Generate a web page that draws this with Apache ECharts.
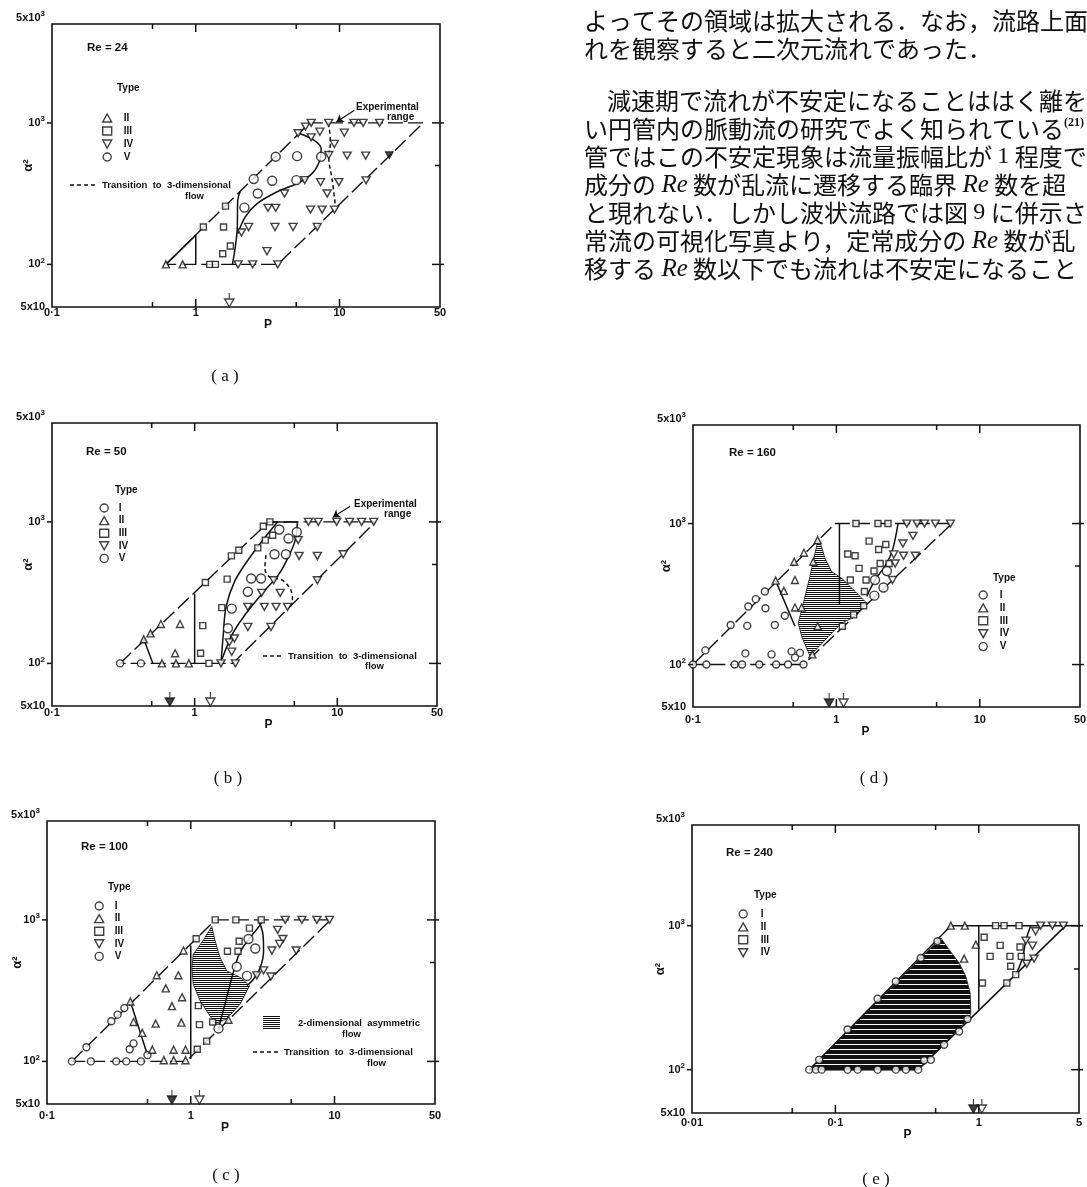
<!DOCTYPE html>
<html>
<head>
<meta charset="utf-8">
<script src="https://cdn.jsdelivr.net/npm/echarts@6/dist/echarts.min.js"></script>
<style>
  html, body { margin: 0; padding: 0; background: #fff; }
  #chart { width: 1087px; height: 1187px; }
</style>
</head>
<body>
<div id="chart"></div>
<script>
// ---------------------------------------------------------------
// Flow-type maps: P (x) against alpha^2 (y), log-log, five Re values
// Each point is [P, alpha^2].
// ---------------------------------------------------------------

// Axis ticks / labels
const X_RANGE = [0.1, 50];
const X_RANGE_E = [0.01, 5];
const X_TICK_MARKS = [0.5, 1, 5, 10];
const X_TICK_MARKS_E = [0.05, 0.1, 0.5, 1];
const Y_RANGE = [50, 5000];
const Y_TICK_MARKS = [100, 500, 1000];
const Y_TICK_VALUES = [50, 100, 1000, 5000];
const Y_TICK_LABELS = ['5x10', '10{sup|2}', '10{sup|3}', '{top|5x10}{tsup|3}'];

// ---- (a) Re = 24 ----
const a_II = [[0.62,100],[0.81,100]];
const a_III = [[1.25,100],[1.37,100],[1.54,119],[1.74,135],[1.13,184],[1.56,184],[1.61,258]];
const a_IV = [[1.97,100],[2.49,100],[3.72,100],[3.13,124],[2.08,168],[2.33,184],[3.56,184],[4.75,184],[7.0,184],
  [3.18,251],[3.60,251],[6.28,244],[7.57,244],[9.23,244],[4.14,317],[8.2,317],[5.73,394],[7.38,382],[9.9,382],
  [15.3,393],[8.42,593],[11.3,587],[15.2,587],[5.15,845],[5.8,942],[6.35,1000],[6.35,791],[7.3,867],[10.8,853],
  [8.4,1000],[12.6,1000],[14.6,1000],[19.0,1000],[9.2,710]];
const a_IVsolid = [[22.2,591]];
const a_V = [[3.60,577],[5.07,582],[7.45,577],[2.53,401],[3.40,390],[5.01,394],[2.70,317],[2.18,252]];
const a_range = [[0.62,100],[6.2,1000],[38.3,1000],[3.72,100],[0.62,100]];
const a_solidII = [[0.62,100],[1.0,161],[1.0,100]];
const a_sep1 = [[1.80,100],[1.94,174],[1.96,284],[2.04,329]];
const a_sep2 = [[1.96,165],[2.21,217],[2.67,269],[3.68,326],[5.07,373],[6.46,440],[7.30,547],[7.45,661],[6.63,757],[5.20,845]];
const a_trans = [[8.4,1000],[8.65,718],[8.4,580],[8.9,394],[9.38,255]];
const a_arrow = [[12.7,1229],[9.5,1016]];
const a_pOpen = [1.71];
const a_pFilled = [];

// ---- (b) Re = 50 ----
const b_I = [[0.30,100],[0.42,100]];
const b_II = [[0.44,148],[0.49,163],[0.58,190],[0.79,190],[0.73,118],[0.59,100],[0.74,100],[0.91,100]];
const b_III = [[1.26,100],[1.10,118],[1.14,185],[1.19,373],[1.69,394],[1.55,248],[1.81,575],[2.04,631],
  [2.77,655],[3.03,931],[3.37,1000],[3.13,743],[3.52,805]];
const b_IV = [[1.53,100],[1.93,100],[1.82,121],[1.75,141],[1.90,150],[2.36,181],[3.43,181],[2.36,251],[3.08,251],
  [3.72,251],[4.48,251],[2.95,315],[3.98,315],[3.58,387],[7.25,387],[5.4,575],[7.25,575],[11.0,591],[5.32,743],
  [6.28,1000],[7.36,1000],[9.9,1000],[12.2,1000],[14.8,1000],[18.0,1000]];
const b_V = [[3.63,591],[4.36,591],[4.55,763],[5.2,849],[2.49,398],[2.92,398],[2.36,321],[1.82,244],[1.71,177],[3.92,883]];
const b_range = [[0.30,100],[3.3,1000],[18.5,1000],[1.85,100],[0.30,100]];
const b_topSolid = [[3.3,1000],[5.3,1000]];
const b_solidII = [[0.44,148],[0.51,100]];
const b_vert = [[1.0,312],[1.0,100]];
const b_curve1 = [[1.53,100],[1.59,163],[1.66,251],[1.90,377],[2.36,536],[3.0,743],[3.81,1000]];
const b_curve2 = [[1.56,108],[1.85,163],[2.29,225],[3.0,315],[3.92,431],[4.6,582],[5.07,743],[5.26,1000]];
const b_trans = [[3.16,582],[3.11,469],[3.34,409],[4.13,387],[4.72,330],[4.85,280],[4.65,248]];
const b_arrow = [[12.3,1291],[9.3,1080]];
const b_pOpen = [1.29];
const b_pFilled = [0.67];

// ---- (c) Re = 100 ----
const c_I = [[0.149,100],[0.202,100],[0.303,100],[0.356,100],[0.45,100],[0.188,126],[0.28,192],[0.31,214],
  [0.345,238],[0.376,122],[0.40,134],[0.50,111]];
const c_II = [[0.38,265],[0.40,190],[0.46,159],[0.54,121],[0.57,185],[0.65,102],[0.76,102],[0.92,102],[0.76,121],
  [0.92,121],[0.86,188],[0.74,246],[0.87,284],[0.67,328],[0.58,406],[0.82,406],[0.89,608],[1.83,197]];
const c_III = [[1.11,122],[1.29,139],[1.15,182],[1.42,190],[1.13,248],[1.09,736],[1.48,1000],[2.06,1000],[3.09,1000],
  [1.80,601],[2.13,601],[2.17,706],[2.56,875]];
const c_IV = [[4.54,1000],[5.93,1000],[7.54,1000],[9.23,1000],[4.02,851],[4.37,733],[4.15,676],[3.67,608],
  [3.21,440],[2.88,406],[3.61,398],[5.41,608]];
const c_V = [[2.09,467],[2.46,402],[2.81,628],[2.52,733],[1.56,171]];
const c_range = [[0.149,100],[1.48,1000],[9.4,1000],[0.93,100],[0.149,100]];
const c_solidII = [[0.38,265],[0.50,111]];
const c_vert = [[1.0,660],[1.0,104]];
const c_curveA = [[1.56,171],[1.78,284],[1.99,436],[2.19,585],[2.52,725],[3.04,923],[3.15,1000]];
const c_curveB = [[2.95,1000],[3.18,786],[3.21,601],[3.04,460],[2.73,381],[2.46,343]];
const c_hatch = [[1.40,898],[1.23,725],[1.04,570],[1.02,460],[1.04,352],[1.16,269],[1.33,217],[1.48,185],
  [1.78,200],[2.21,255],[2.56,343],[2.21,392],[1.78,436],[1.60,541],[1.48,706]];
const c_pOpen = [1.15];
const c_pFilled = [0.74];

// ---- (d) Re = 160 ----
const d_I = [[0.1,100],[0.124,100],[0.195,100],[0.22,100],[0.29,100],[0.38,100],[0.46,100],[0.59,100],
  [0.122,126],[0.183,191],[0.243,258],[0.274,291],[0.317,330],[0.239,188],[0.32,251],[0.372,191],[0.437,222],
  [0.232,120],[0.353,118],[0.487,124],[0.557,121],[0.514,112]];
const d_II = [[0.377,394],[0.514,398],[0.43,333],[0.508,536],[0.594,621],[0.69,536],[0.74,763],[0.514,254],
  [0.573,254],[0.74,187],[0.68,118]];
const d_III = [[1.37,1000],[1.95,1000],[2.29,1000],[1.20,608],[1.35,591],[1.69,750],[1.97,655],[2.21,711],
  [2.02,521],[2.33,521],[1.44,481],[1.83,461],[1.61,398],[1.25,398],[1.57,330],[1.55,261],[1.32,225],[1.10,187]];
const d_IV = [[3.10,1000],[3.65,1000],[4.12,1000],[4.90,1000],[6.24,1000],[3.42,819],[2.91,722],[2.94,591],
  [2.51,604],[2.57,521],[3.55,591],[2.46,398]];
const d_V = [[2.25,461],[1.86,398],[2.13,352],[1.84,308]];
const d_range = [[0.1,100],[0.98,1000],[6.4,1000],[0.59,100],[0.1,100]];
const d_vert = [[1.05,1000],[1.05,265]];
const d_sepI = [[0.377,394],[0.514,187]];
const d_curve = [[2.69,1000],[2.46,648],[2.19,502],[1.86,398],[1.63,304]];
const d_hatch = [[0.748,784],[0.709,614],[0.654,421],[0.588,272],[0.542,197],[0.573,158],[0.654,115],[0.879,158],
  [1.09,197],[1.35,219],[1.63,272],[1.35,330],[1.09,409],[0.927,456],[0.833,566],[0.789,684]];
const d_pOpen = [1.12];
const d_pFilled = [0.89];

// ---- (e) Re = 240 ----
const e_I = [[0.0657,100],[0.0731,100],[0.0802,100],[0.1216,100],[0.143,100],[0.197,100],[0.264,100],[0.310,100],
  [0.378,100],[0.0771,117],[0.1216,190],[0.197,311],[0.264,410],[0.394,596],[0.515,779],[0.416,116],[0.463,117],
  [0.573,149],[0.729,184],[0.834,225]];
const e_II = [[0.638,1000],[0.799,1000],[0.953,738],[0.790,590]];
const e_III = [[1.31,1000],[1.50,1000],[1.91,1000],[1.09,830],[1.41,730],[1.20,612],[1.65,612],[1.94,711],
  [1.98,612],[1.67,522],[1.06,400],[1.57,400],[1.81,457]];
const e_IV = [[2.49,914],[2.70,1000],[3.26,1000],[3.89,1000],[2.13,787],[2.37,726],[2.16,544],[2.43,590]];
const e_range = [[0.378,100],[0.0657,100],[0.64,1000],[5,1000]];
const e_right = [[4.04,1000],[0.378,100]];
const e_vert = [[1.0,1000],[1.0,262]];
const e_curve = [[2.3,1000],[2.13,790],[2.05,640],[1.95,540],[1.81,457]];
const e_hatch = [[0.0657,100],[0.544,821],[0.621,681],[0.729,551],[0.811,445],[0.871,341],[0.880,248],[0.86,228],[0.378,100]];
const e_pOpen = [1.05];
const e_pFilled = [0.918];

// Body text set beside the figure
const BODY_LINES = [
  'よってその領域は拡大される．なお，流路上面',
  'れを観察すると二次元流れであった．',
  '減速期で流れが不安定になることははく離を',
  'い円管内の脈動流の研究でよく知られている{s|(21)}',
  '管ではこの不安定現象は流量振幅比が {n|1} 程度で',
  '成分の {i|Re} 数が乱流に遷移する臨界 {i|Re} 数を超',
  'と現れない．しかし波状流路では図 {n|9} に併示さ',
  '常流の可視化写真より，定常成分の {i|Re} 数が乱',
  '移する {i|Re} 数以下でも流れは不安定になること'
];

// ---------------------------------------------------------------
const INK = '#111';
const FONT = '"Liberation Sans", Arial, sans-serif';
const TRI_DOWN = 'path://M0,0L10,0L5,9Z';
const P_ARROW = 'path://M5,0L5,6M1,6L9,6L5,14Z';
const MARK = {
  I:   { symbol: 'circle',   size: 7 },
  II:  { symbol: 'triangle', size: 7 },
  III: { symbol: 'rect',     size: 6 },
  IV:  { symbol: TRI_DOWN,   size: [8, 7] },
  V:   { symbol: 'circle',   size: 9 }
};

function hatchPattern(ink, gap) {
  const c = document.createElement('canvas');
  c.width = 4; c.height = ink + gap;
  const g = c.getContext('2d');
  g.fillStyle = '#fff'; g.fillRect(0, 0, 4, ink + gap);
  g.fillStyle = INK; g.fillRect(0, 0, 4, ink);
  return { image: c, repeat: 'repeat' };
}
const HATCH_LIGHT = hatchPattern(1, 1);
const HATCH_DARK = hatchPattern(4, 1);

function scatter(tag, type, gi, pts) {
  return {
    name: tag + ' ' + type, type: 'scatter', xAxisIndex: gi, yAxisIndex: gi, data: pts,
    symbol: MARK[type].symbol, symbolSize: MARK[type].size, clip: false, silent: true, z: 4,
    itemStyle: { color: '#fff', borderColor: INK, borderWidth: 1.4 }
  };
}
function filledScatter(gi, pts, type) {
  return {
    type: 'scatter', xAxisIndex: gi, yAxisIndex: gi, data: pts, clip: false, silent: true, z: 4,
    symbol: MARK[type].symbol, symbolSize: MARK[type].size,
    itemStyle: { color: INK, borderColor: INK, borderWidth: 1 }
  };
}
function curve(gi, pts, kind, smooth) {
  const type = kind === 'range' ? [15, 5] : kind === 'trans' ? [4, 3] : 'solid';
  return {
    type: 'line', xAxisIndex: gi, yAxisIndex: gi, data: pts, symbol: 'none', showSymbol: false,
    smooth: smooth ? 0.35 : false, silent: true, z: 2, clip: false,
    lineStyle: { color: INK, width: kind === 'range' ? 1.4 : 1.5, type }
  };
}
function pointerLine(gi, pts) {
  return {
    type: 'line', xAxisIndex: gi, yAxisIndex: gi, data: [], silent: true,
    markLine: {
      silent: true, symbol: ['none', 'arrow'], symbolSize: 7, animation: false,
      label: { show: false }, lineStyle: { color: INK, width: 1.2, type: 'solid' },
      data: [[{ coord: pts[0] }, { coord: pts[1] }]]
    }
  };
}
function hatch(gi, poly, pattern) {
  return {
    type: 'custom', xAxisIndex: gi, yAxisIndex: gi, data: poly, silent: true, z: 1, clip: true,
    renderItem(params, api) {
      if (params.dataIndex !== 0) return null;
      return {
        type: 'polygon',
        shape: { points: poly.map(p => api.coord(p)) },
        style: { fill: pattern, stroke: INK, lineWidth: 0.8 }
      };
    }
  };
}
function pMarkers(gi, open, filled) {
  const base = {
    type: 'scatter', xAxisIndex: gi, yAxisIndex: gi, symbol: P_ARROW, symbolSize: [9, 14],
    symbolOffset: [0, -7], clip: false, silent: true, z: 4
  };
  return [
    Object.assign({}, base, { data: open.map(p => [p, Y_RANGE[0]]),
      itemStyle: { color: '#fff', borderColor: INK, borderWidth: 1.4 } }),
    Object.assign({}, base, { data: filled.map(p => [p, Y_RANGE[0]]),
      itemStyle: { color: INK, borderColor: INK, borderWidth: 1.4 } })
  ];
}
function frameTicks(gi, xr, xt) {
  const data = xt.map(v => [v, 1]).concat(Y_TICK_MARKS.map(v => [v, 2]));
  return {
    type: 'custom', xAxisIndex: gi, yAxisIndex: gi, data, silent: true, clip: false, z: 5,
    renderItem(params, api) {
      const v = api.value(0), kind = api.value(1);
      const lg = Math.log10(v), major = Math.abs(lg - Math.round(lg)) < 1e-9;
      const len = major ? 8 : 5;
      const st = { stroke: INK, lineWidth: 1.5 };
      if (kind === 1) {
        const b = api.coord([v, Y_RANGE[0]]), t = api.coord([v, Y_RANGE[1]]);
        return { type: 'group', children: [
          { type: 'line', shape: { x1: b[0], y1: b[1], x2: b[0], y2: b[1] - len }, style: st },
          { type: 'line', shape: { x1: t[0], y1: t[1], x2: t[0], y2: t[1] + len }, style: st }
        ] };
      }
      const l = api.coord([xr[0], v]), r = api.coord([xr[1], v]);
      const kids = [{ type: 'line', shape: { x1: r[0] - len, y1: r[1], x2: r[0] + (major ? 4 : 0), y2: r[1] }, style: st }];
      if (major) kids.push({ type: 'line', shape: { x1: l[0] - 5, y1: l[1], x2: l[0], y2: l[1] }, style: st });
      return { type: 'group', children: kids };
    }
  };
}

// Grid placement of the five panels
const GRIDS = [
  { left: 52,  top: 24,  width: 388, height: 283 },
  { left: 52,  top: 423, width: 385, height: 283 },
  { left: 47,  top: 821, width: 388, height: 283 },
  { left: 693, top: 425, width: 387, height: 282 },
  { left: 692, top: 825, width: 387, height: 288 }
];
// per panel: x label margin, P name gap, P name shift, alpha name gap
const AXIS_LAYOUT = [
  { lm: 0, ng: 9,  shift: 22,  yg: 17 },
  { lm: 1, ng: 12, shift: 24,  yg: 17 },
  { lm: 6, ng: 14, shift: -16, yg: 23 },
  { lm: 7, ng: 15, shift: -21, yg: 20 },
  { lm: 4, ng: 13, shift: 22,  yg: 25 }
];

const labelStyle = { color: INK, fontSize: 11, fontWeight: 'bold', fontFamily: FONT };
const supStyle = { color: INK, fontSize: 8, fontWeight: 'bold', fontFamily: FONT };
const xAxes = GRIDS.map((g, i) => {
  const L = AXIS_LAYOUT[i], r = i === 4 ? X_RANGE_E : X_RANGE;
  return {
    type: 'log', logBase: 10, gridIndex: i, min: r[0], max: r[1],
    axisLine: { show: false }, axisTick: { show: false }, splitLine: { show: false },
    axisLabel: Object.assign({ margin: L.lm, formatter: v => String(+(+v).toPrecision(4)).replace('.', '·') }, labelStyle),
    name: 'P', nameLocation: 'middle', nameGap: L.ng,
    nameTextStyle: { color: INK, fontSize: 12, fontWeight: 'bold', fontFamily: FONT,
      padding: L.shift >= 0 ? [0, 0, 0, 2 * L.shift] : [0, -2 * L.shift, 0, 0] }
  };
});
const yAxes = GRIDS.map((g, i) => ({
  type: 'log', logBase: 10, gridIndex: i, min: Y_RANGE[0], max: Y_RANGE[1],
  axisLine: { show: false }, axisTick: { show: false }, splitLine: { show: false },
  axisLabel: Object.assign({
    margin: 7,
    formatter: v => {
      const k = Y_TICK_VALUES.indexOf(Math.round(v));
      return k < 0 ? '' : Y_TICK_LABELS[k];
    },
    rich: {
      sup: Object.assign({ padding: [0, 0, 8, 0] }, supStyle),
      top: Object.assign({ padding: [0, 0, 13, 0] }, labelStyle),
      tsup: Object.assign({ padding: [0, 0, 21, 0] }, supStyle)
    }
  }, labelStyle),
  name: 'α²', nameLocation: 'middle', nameRotate: 90, nameGap: AXIS_LAYOUT[i].yg,
  nameMoveOverlap: false,
  nameTextStyle: { color: INK, fontSize: 13, fontWeight: 'bold', fontFamily: FONT }
}));

// ---- series ----
const series = [];
function addTypes(tag, gi, sets) {
  Object.keys(sets).forEach(t => series.push(scatter(tag, t, gi, sets[t])));
}
// (a)
series.push(curve(0, a_range, 'range'), curve(0, a_solidII, 'solid'), curve(0, a_sep1, 'solid', true),
  curve(0, a_sep2, 'solid', true), curve(0, a_trans, 'trans', true), pointerLine(0, a_arrow));
addTypes('a', 0, { II: a_II, III: a_III, IV: a_IV, V: a_V });
series.push(filledScatter(0, a_IVsolid, 'IV'), ...pMarkers(0, a_pOpen, a_pFilled));
// (b)
series.push(curve(1, b_range, 'range'), curve(1, b_topSolid, 'solid'), curve(1, b_solidII, 'solid'),
  curve(1, b_vert, 'solid'), curve(1, b_curve1, 'solid', true), curve(1, b_curve2, 'solid', true),
  curve(1, b_trans, 'trans', true), pointerLine(1, b_arrow));
addTypes('b', 1, { I: b_I, II: b_II, III: b_III, IV: b_IV, V: b_V });
series.push(...pMarkers(1, b_pOpen, b_pFilled));
// (c)
series.push(hatch(2, c_hatch, HATCH_LIGHT), curve(2, c_range, 'range'), curve(2, c_solidII, 'solid'),
  curve(2, c_vert, 'solid'), curve(2, c_curveA, 'solid', true), curve(2, c_curveB, 'solid', true));
addTypes('c', 2, { I: c_I, II: c_II, III: c_III, IV: c_IV, V: c_V });
series.push(...pMarkers(2, c_pOpen, c_pFilled));
// (d)
series.push(hatch(3, d_hatch, HATCH_LIGHT), curve(3, d_range, 'range'), curve(3, d_vert, 'solid'),
  curve(3, d_sepI, 'solid'), curve(3, d_curve, 'solid', true));
addTypes('d', 3, { I: d_I, II: d_II, III: d_III, IV: d_IV, V: d_V });
series.push(...pMarkers(3, d_pOpen, d_pFilled));
// (e)
series.push(hatch(4, e_hatch, HATCH_DARK), curve(4, e_range, 'solid'), curve(4, e_right, 'solid'),
  curve(4, e_vert, 'solid'), curve(4, e_curve, 'solid', true));
addTypes('e', 4, { I: e_I, II: e_II, III: e_III, IV: e_IV });
series.push(...pMarkers(4, e_pOpen, e_pFilled));
// frame ticks
GRIDS.forEach((g, i) => series.push(frameTicks(i, i === 4 ? X_RANGE_E : X_RANGE, i === 4 ? X_TICK_MARKS_E : X_TICK_MARKS)));

// ---- keys ----
function typeKey(tag, types, left, top, gap, pad) {
  return {
    left, top, orient: 'vertical', padding: 0, itemGap: gap, itemWidth: 9, itemHeight: 8,
    selectedMode: false, data: types.map(t => tag + ' ' + t), formatter: n => n.split(' ')[1],
    itemStyle: { color: '#fff', borderColor: INK, borderWidth: 1.4 },
    textStyle: { fontSize: 10, fontWeight: 'bold', color: INK, fontFamily: FONT, padding: [0, 0, 0, pad] }
  };
}
const legends = [
  typeKey('a', ['II', 'III', 'IV', 'V'], 102, 113, 3, 7),
  typeKey('b', ['I', 'II', 'III', 'IV', 'V'], 99, 503, 2.6, 5),
  typeKey('c', ['I', 'II', 'III', 'IV', 'V'], 94, 901, 2.6, 6),
  typeKey('d', ['I', 'II', 'III', 'IV', 'V'], 978, 590, 2.9, 7),
  typeKey('e', ['I', 'II', 'III', 'IV'], 738, 909, 2.9, 8)
];

// ---- annotations ----
function txt(x, y, text, font, align) {
  return { type: 'text', x, y, silent: true,
    style: { text, font, fill: INK, align: align || 'left', verticalAlign: 'middle' } };
}
const F_RE = 'bold 11.5px ' + FONT;
const F_NOTE = 'bold 10px ' + FONT;
const F_SMALL = 'bold 9.5px ' + FONT;
function dash(x1, x2, y) {
  return { type: 'line', silent: true, shape: { x1, y1: y, x2, y2: y },
    style: { stroke: INK, lineWidth: 1.4, lineDash: [4, 3] } };
}
const graphics = [
  // (a)
  txt(87, 48, 'Re = 24', F_RE), txt(117, 88, 'Type', F_NOTE),
  dash(70, 97, 185), txt(102, 185, 'Transition  to  3-dimensional', F_SMALL), txt(185, 196, 'flow', F_SMALL),
  txt(356, 107, 'Experimental', F_NOTE), txt(387, 117, 'range', F_NOTE),
  // (b)
  txt(86, 452, 'Re = 50', F_RE), txt(115, 490, 'Type', F_NOTE),
  dash(263, 283, 656), txt(288, 656, 'Transition  to  3-dimensional', F_SMALL), txt(365, 666, 'flow', F_SMALL),
  txt(354, 504, 'Experimental', F_NOTE), txt(384, 514, 'range', F_NOTE),
  // (c)
  txt(81, 847, 'Re = 100', F_RE), txt(108, 887, 'Type', F_NOTE),
  { type: 'rect', silent: true, shape: { x: 263, y: 1016, width: 17, height: 14 }, style: { fill: HATCH_LIGHT } },
  txt(298, 1023, '2-dimensional  asymmetric', F_SMALL), txt(342, 1034, 'flow', F_SMALL),
  dash(253, 280, 1052), txt(284, 1052, 'Transition  to  3-dimensional', F_SMALL), txt(367, 1063, 'flow', F_SMALL),
  // (d)
  txt(729, 453, 'Re = 160', F_RE), txt(993, 578, 'Type', F_NOTE),
  // (e)
  txt(726, 853, 'Re = 240', F_RE), txt(754, 895, 'Type', F_NOTE)
];
// panel captions
[['( a )', 225, 377], ['( b )', 228, 779], ['( c )', 226, 1176], ['( d )', 874, 779], ['( e )', 876, 1180]]
  .forEach(c => graphics.push(txt(c[1], c[2], c[0], '17px "Liberation Serif", serif', 'center')));

// body text, one paragraph break after the second line
const BODY_FONT = '24px "Noto Sans CJK JP", sans-serif';
const BODY_RICH = {
  i: { font: 'italic 25px "Liberation Serif", serif', fill: INK },
  n: { font: '24px "Liberation Serif", serif', fill: INK },
  s: { font: 'bold 12px "Liberation Serif", serif', fill: INK, padding: [0, 0, 12, 0] }
};
BODY_LINES.forEach((line, k) => {
  const y = k < 2 ? 21 + 28 * k : 101 + 28 * (k - 2);
  const x = k === 2 ? 607 : 584;
  graphics.push({ type: 'text', x, y, silent: true,
    style: { text: line, font: BODY_FONT, fill: INK, rich: BODY_RICH, align: 'left', verticalAlign: 'middle' } });
});

const chart = echarts.init(document.getElementById('chart'), null, { renderer: 'canvas' });
chart.setOption({
  animation: false,
  backgroundColor: '#fff',
  grid: GRIDS.map(g => Object.assign({ show: true, borderColor: INK, borderWidth: 1.6,
    backgroundColor: 'transparent', containLabel: false, outerBoundsMode: 'none' }, g)),
  xAxis: xAxes,
  yAxis: yAxes,
  legend: legends,
  series,
  graphic: { elements: graphics }
});
</script>
</body>
</html>
